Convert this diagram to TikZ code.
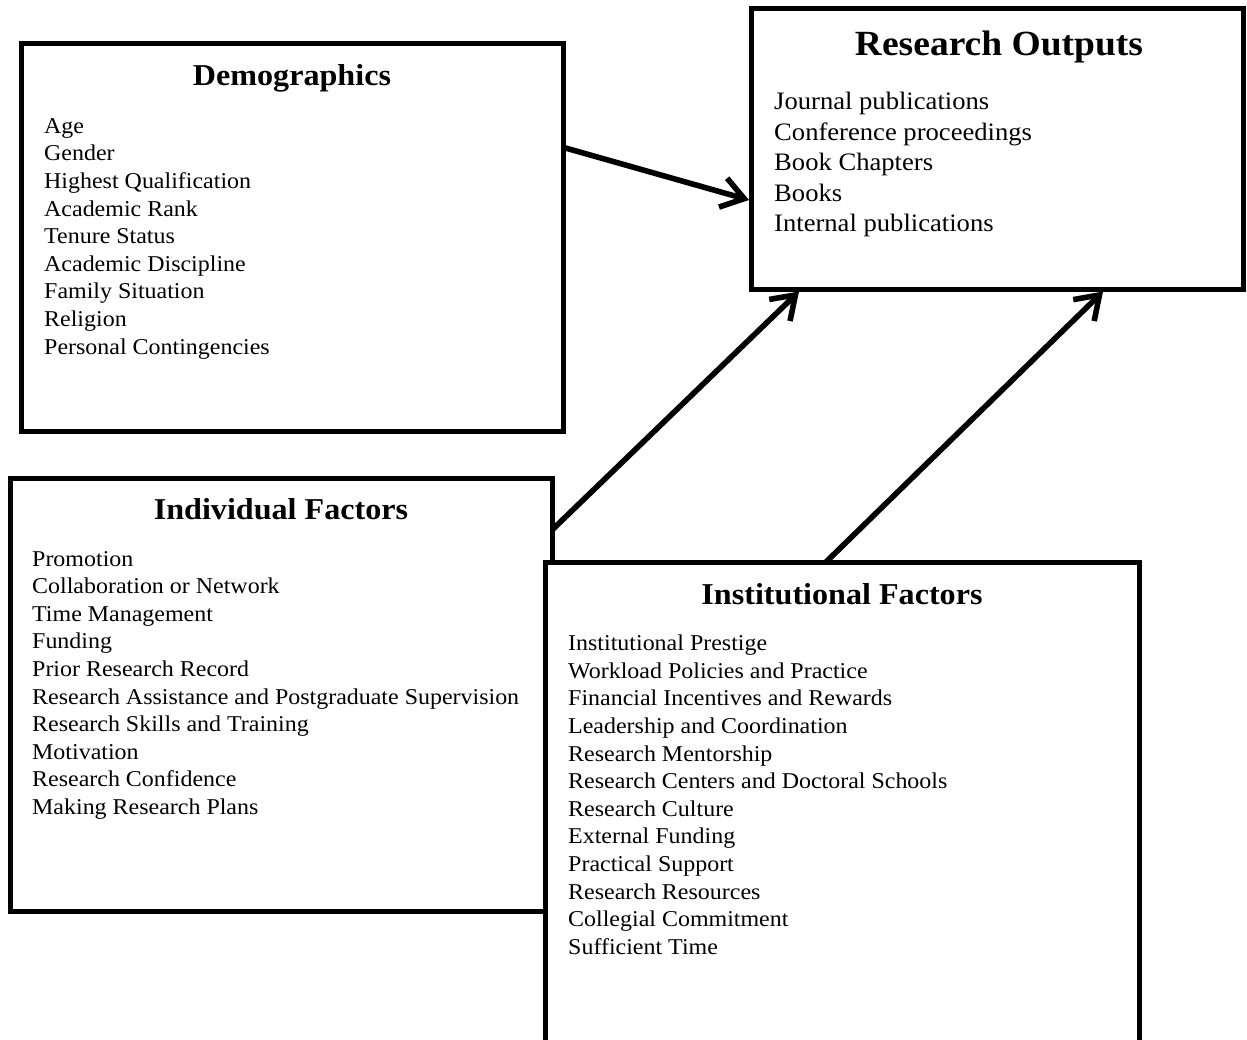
\documentclass[tikz,border=0pt]{standalone}
\usepackage{fontspec}
\setmainfont{Liberation Serif}[FakeStretch=1.06]
\usetikzlibrary{arrows.meta}

\tikzset{
  panel/.style={draw=black, line width=5pt, fill=white, rectangle, inner sep=0pt,
                outer sep=0pt, anchor=north west},
  paneltitle/.style={font=\bfseries\fontsize{30.3}{36}\selectfont, anchor=base, inner sep=0pt},
  bigtitle/.style={font=\bfseries\fontsize{35.4}{40}\selectfont, anchor=base, inner sep=0pt},
  item/.style={font=\fontsize{22.6}{27.6}\selectfont, anchor=base west, inner sep=0pt},
  bigitem/.style={font=\fontsize{25.1}{30.5}\selectfont, anchor=base west, inner sep=0pt},
  link/.style={line width=5.6pt, -{Straight Barb[length=22pt,width=30pt]}},
}

\begin{document}
\begin{tikzpicture}[x=1pt, y=-1pt]
  \useasboundingbox (0,0) rectangle (1247,1039);
  \clip (0,0) rectangle (1247,1039);

  % boxes
  \node[panel, minimum width=541.5pt, minimum height=388.2pt] (demo) at (21.5,43.3) {};
  \node[panel, minimum width=491.5pt, minimum height=280.7pt] (out) at (751.5,8.3) {};
  \node[panel, minimum width=542pt, minimum height=433pt] (indiv) at (10,478) {};
  \node[panel, minimum width=593.5pt, minimum height=600pt] (inst) at (545.5,562) {};

  % titles
  \node[paneltitle] (demo-title) at (292,85) {Demographics};
  \node[bigtitle] (out-title) at (999,55) {Research Outputs};
  \node[paneltitle] (indiv-title) at (281,519) {Individual Factors};
  \node[paneltitle] (inst-title) at (842,604) {Institutional Factors};

  % item lists
  \foreach \t [count=\i] in {Age, Gender, Highest Qualification, Academic Rank,
      Tenure Status, Academic Discipline, Family Situation, Religion,
      Personal Contingencies}
    \node[item] (demo-\i) at (44,{133.3+27.6*(\i-1)}) {\t};

  \foreach \t [count=\i] in {Journal publications, Conference proceedings,
      Book Chapters, Books, Internal publications}
    \node[bigitem] (out-\i) at (774,{109.5+30.5*(\i-1)}) {\t};

  \foreach \t [count=\i] in {Promotion, Collaboration or Network, Time Management,
      Funding, Prior Research Record,
      Research Assistance and Postgraduate Supervision,
      Research Skills and Training, Motivation, Research Confidence,
      Making Research Plans}
    \node[item] (indiv-\i) at (32,{566+27.6*(\i-1)}) {\t};

  \foreach \t [count=\i] in {Institutional Prestige, Workload Policies and Practice,
      Financial Incentives and Rewards, Leadership and Coordination,
      Research Mentorship, Research Centers and Doctoral Schools,
      Research Culture, External Funding, Practical Support,
      Research Resources, Collegial Commitment, Sufficient Time}
    \node[item] (inst-\i) at (568,{650.7+27.6*(\i-1)}) {\t};

  % connectors
  \draw[link] ([xshift=2.5pt]demo.east |- 0,148) -- ([xshift=-2.5pt]out.west |- 0,200);
  \draw[link] (indiv.east |- 0,530) -- ([yshift=-2.5pt]out.south -| 799,0);
  \draw[link] (inst.north -| 826,0) -- ([yshift=-2.5pt]out.south -| 1103,0);
\end{tikzpicture}
\end{document}
